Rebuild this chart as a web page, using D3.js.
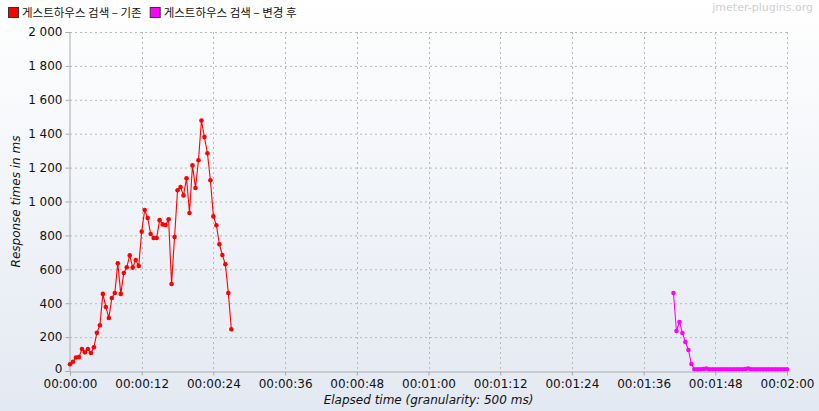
<!DOCTYPE html>
<html><head><meta charset="utf-8">
<script src="https://cdn.jsdelivr.net/npm/d3@7"></script>
<style>body{margin:0;padding:0;overflow:hidden}svg{display:block}</style>
</head><body><svg id="c" width="819" height="411"></svg>
<script>
// Data (elapsed seconds, response ms)
const seriesNames = ["게스트하우스 검색 – 기존", "게스트하우스 검색 – 변경 후"];
const seriesColors = ["#ff0000", "#ff00ff"];
const redStart = 0; // seconds
const redValues = [40,55,80,82,130,110,130,106,140,225,270,455,378,313,431,460,635,455,578,612,682,610,655,620,822,950,903,808,785,785,890,865,861,895,513,791,1066,1085,1036,1137,932,1213,1080,1243,1478,1380,1285,1125,912,860,748,684,630,460,246];
const magStart = 101;
const magValues = [460,236,289,224,171,124,41,10,10,10,12,15,10,10,10,10,10,10,10,10,10,10,10,10,12,15,10,10,10,10,10,10,10,10,10,10,10,10,10];
const xTicks = [0,12,24,36,48,60,72,84,96,108,120];
const yTicks = [0,200,400,600,800,1000,1200,1400,1600,1800,2000];
const xTitle = "Elapsed time (granularity: 500 ms)";
const yTitle = "Response times in ms";
const watermark = "jmeter-plugins.org";

const step = 0.5;
const toPts = (start, vals) => vals.map((v,i)=>({t:start+i*step, v}));
const data = [toPts(redStart, redValues), toPts(magStart, magValues)];

const svg = d3.select("#c");
const W=819,H=411;
const m={l:70,r:32,t:32,b:40};
const defs = svg.append("defs");
const g1 = defs.append("linearGradient").attr("id","bg").attr("x1",0).attr("y1",0).attr("x2",0).attr("y2",1);
g1.append("stop").attr("offset","0%").attr("stop-color","#ffffff");
g1.append("stop").attr("offset","100%").attr("stop-color","#e3e9f2");
svg.append("rect").attr("width",W).attr("height",H).attr("fill","url(#bg)");

const x = d3.scaleLinear().domain([0,120]).range([m.l, W-m.r]);
const y = d3.scaleLinear().domain([0,2000]).range([H-m.b, m.t]);

const fmt = s => { const h=Math.floor(s/3600), mm=Math.floor(s%3600/60), ss=s%60; const p=n=>String(n).padStart(2,"0"); return p(h)+":"+p(mm)+":"+p(ss); };
const fmtY = v => v>=1000 ? d3.format(",")(v).replace(",", " ") : String(v);

// grid
const grid = svg.append("g");
grid.selectAll(".hg").data(yTicks.filter(d=>d>0)).join("line")
  .attr("x1",m.l).attr("x2",W-m.r).attr("y1",d=>y(d)+0.5).attr("y2",d=>y(d)+0.5)
  .attr("stroke","#b8b8b8").attr("stroke-dasharray","2,3").attr("stroke-width",1);
grid.selectAll(".vg").data(xTicks.filter(d=>d>0)).join("line")
  .attr("y1",m.t).attr("y2",H-m.b).attr("x1",d=>Math.round(x(d))+0.5).attr("x2",d=>Math.round(x(d))+0.5)
  .attr("stroke","#b8b8b8").attr("stroke-dasharray","2,3").attr("stroke-width",1);

// axes
const xa = svg.append("g").attr("transform",`translate(0,${H-m.b+0.5})`)
  .call(d3.axisBottom(x).tickValues(xTicks).tickFormat(fmt).tickSize(4).tickPadding(4));
const ya = svg.append("g").attr("transform",`translate(${m.l-0.5},0)`)
  .call(d3.axisLeft(y).tickValues(yTicks).tickFormat(fmtY).tickSize(4).tickPadding(3));
[xa,ya].forEach(a=>{
  a.selectAll("path").attr("stroke","#aaaaaa");
  a.selectAll("line").attr("stroke","#aaaaaa");
  a.selectAll("text").attr("fill","#111").style("font-family","'DejaVu Sans', sans-serif").style("font-size","12px");
});
ya.selectAll(".tick").filter(d=>d===0).select("text").attr("dy","0.1em");

svg.append("text").attr("x",(m.l+W-m.r)/2).attr("y",H-7).attr("text-anchor","middle")
  .style("font-family","'DejaVu Sans', sans-serif").style("font-size","12px").style("font-style","italic").attr("fill","#111").text(xTitle);
svg.append("text").attr("transform",`translate(20,${(m.t+H-m.b)/2}) rotate(-90)`).attr("text-anchor","middle")
  .style("font-family","'DejaVu Sans', sans-serif").style("font-size","12px").style("font-style","italic").attr("fill","#111").text(yTitle);

// series
const line = d3.line().x(d=>x(d.t)).y(d=>y(d.v));
data.forEach((s,i)=>{
  const g = svg.append("g");
  g.append("path").datum(s).attr("d",line).attr("fill","none").attr("stroke",seriesColors[i]).attr("stroke-width",1.1);
  g.selectAll("circle").data(s).join("circle").attr("cx",d=>x(d.t)).attr("cy",d=>y(d.v)).attr("r",2.3).attr("fill",seriesColors[i]);
});

// legend
const leg = svg.append("g");
let lx = 8;
seriesNames.forEach((n,i)=>{
  leg.append("rect").attr("x",lx+0.5).attr("y",7.5).attr("width",10).attr("height",10).attr("fill",seriesColors[i]).attr("stroke","#333");
  const t = leg.append("text").attr("x",lx+14).attr("y",17).style("font-family","'Noto Sans CJK KR', sans-serif").style("font-size","11.5px").attr("fill","#111").text(n);
  lx += 14 + t.node().getComputedTextLength() + 8;
});
svg.append("text").attr("x",813).attr("y",11).attr("text-anchor","end")
  .style("font-family","'DejaVu Sans', sans-serif").style("font-size","11px").attr("fill","#d0d0d0").text(watermark);
</script></body></html>
